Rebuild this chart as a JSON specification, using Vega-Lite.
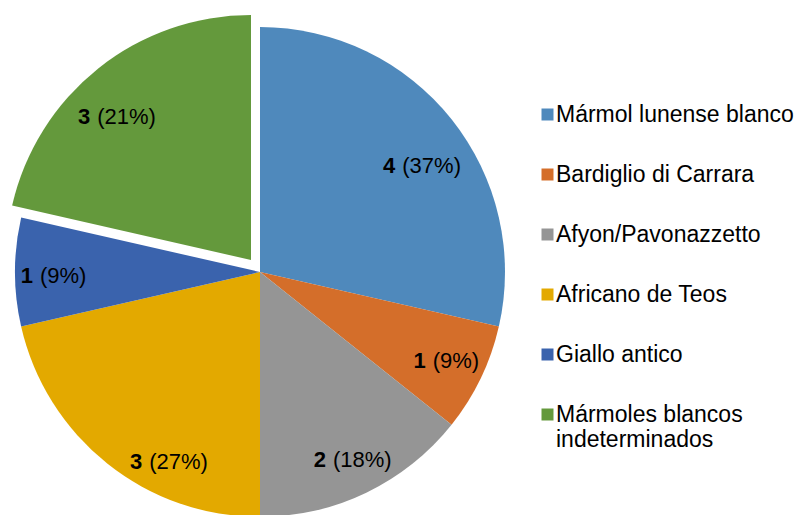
{
  "$schema": "https://vega.github.io/schema/vega-lite/v6.json",
  "width": 520,
  "height": 544,
  "padding": 0,
  "autosize": {"type": "pad"},
  "background": "white",
  "config": {"view": {"stroke": null}, "font": "Liberation Sans"},
  "data": {
    "values": [
      {"material": "Mármol lunense blanco", "count": 4, "pct": "(37%)", "order": 1},
      {"material": "Bardiglio di Carrara", "count": 1, "pct": "(9%)", "order": 2},
      {"material": "Afyon/Pavonazzetto", "count": 2, "pct": "(18%)", "order": 3},
      {"material": "Africano de Teos", "count": 3, "pct": "(27%)", "order": 4},
      {"material": "Giallo antico", "count": 1, "pct": "(9%)", "order": 5},
      {"material": "Mármoles blancos indeterminados", "count": 3, "pct": "(21%)", "order": 6}
    ]
  },
  "encoding": {
    "theta": {"field": "count", "type": "quantitative", "stack": true},
    "order": {"field": "order", "type": "quantitative", "sort": "ascending"}
  },
  "layer": [
    {
      "mark": {"type": "arc", "radius": 245},
      "encoding": {
        "color": {
          "field": "material",
          "type": "nominal",
          "scale": {
            "domain": ["Mármol lunense blanco", "Bardiglio di Carrara", "Afyon/Pavonazzetto", "Africano de Teos", "Giallo antico", "Mármoles blancos indeterminados"],
            "range": ["#4F89BC", "#D46E2A", "#959595", "#E3A900", "#3A63AD", "#64993C"]
          },
          "legend": {
            "orient": "none",
            "legendX": 536,
            "legendY": 103,
            "title": null,
            "symbolType": "square",
            "symbolSize": 144,
            "symbolStrokeWidth": 0,
            "labelFontSize": 23,
            "labelColor": "black",
            "labelLimit": 0,
            "labelOffset": -3,
            "rowPadding": 36,
            "labelExpr": "datum.label == 'Mármoles blancos indeterminados' ? ['Mármoles blancos', 'indeterminados'] : datum.label",
            "encode": {"labels": {"update": {"lineHeight": {"value": 29}}}}
          }
        },
        "opacity": {"condition": {"test": "datum.order == 6", "value": 0}, "value": 1}
      }
    },
    {
      "mark": {"type": "arc", "radius": 245, "xOffset": -9, "yOffset": -12},
      "encoding": {
        "color": {"field": "material", "type": "nominal"},
        "opacity": {"condition": {"test": "datum.order == 6", "value": 1}, "value": 0}
      }
    },
    {
      "mark": {
        "type": "text", "radius": 205, "fontWeight": "bold", "align": "right", "fontSize": 22, "color": "black",
        "dx": {"expr": "-23 + (datum.order == 1 ? -2 : datum.order == 2 ? 4 : datum.order == 4 ? 33 : datum.order == 5 ? 1 : datum.order == 6 ? -19 : 0)"},
        "dy": {"expr": "datum.order == 1 ? 22 : datum.order == 3 ? 3 : datum.order == 4 ? 30 : datum.order == 5 ? 4 : datum.order == 6 ? 5 : 0"}
      },
      "encoding": {"text": {"field": "count"}}
    },
    {
      "mark": {
        "type": "text", "radius": 205, "align": "left", "fontSize": 22, "color": "black",
        "dx": {"expr": "-16 + (datum.order == 1 ? -2 : datum.order == 2 ? 4 : datum.order == 4 ? 33 : datum.order == 5 ? 1 : datum.order == 6 ? -19 : 0)"},
        "dy": {"expr": "datum.order == 1 ? 22 : datum.order == 3 ? 3 : datum.order == 4 ? 30 : datum.order == 5 ? 4 : datum.order == 6 ? 5 : 0"}
      },
      "encoding": {"text": {"field": "pct"}}
    }
  ]
}
